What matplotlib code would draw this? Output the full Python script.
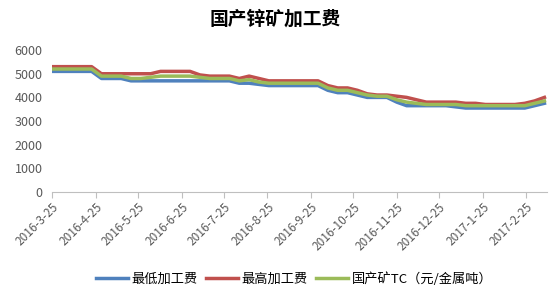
import datetime as dt
import matplotlib
matplotlib.use("Agg")
import matplotlib.pyplot as plt
import matplotlib.dates as mdates

plt.rcParams['font.family'] = ['Noto Sans CJK SC', 'DejaVu Sans']

# weekly quotes, starting 2016-3-25
start = dt.date(2016, 3, 25)
n_weeks = 51
dates = [start + dt.timedelta(weeks=i) for i in range(n_weeks)]

low_fee = [5100, 5100, 5100, 5100, 5100, 4800, 4800, 4800, 4700, 4700,
           4700, 4700, 4700, 4700, 4700, 4700, 4700, 4700, 4700, 4600,
           4600, 4550, 4500, 4500, 4500, 4500, 4500, 4500, 4300, 4200,
           4200, 4100, 4000, 4000, 4000, 3800, 3650, 3650, 3650, 3650,
           3650, 3600, 3550, 3550, 3550, 3550, 3550, 3550, 3550, 3650,
           3750]
high_fee = [5300, 5300, 5300, 5300, 5300, 5000, 5000, 5000, 5000, 5000,
            5000, 5100, 5100, 5100, 5100, 4950, 4900, 4900, 4900, 4800,
            4900, 4800, 4700, 4700, 4700, 4700, 4700, 4700, 4500, 4400,
            4400, 4300, 4150, 4100, 4100, 4050, 4000, 3900, 3800, 3800,
            3800, 3800, 3750, 3750, 3700, 3700, 3700, 3700, 3750, 3850,
            4000]
tc_fee = [5200, 5200, 5200, 5200, 5200, 4900, 4900, 4900, 4800, 4800,
          4850, 4900, 4900, 4900, 4900, 4850, 4800, 4800, 4800, 4700,
          4750, 4650, 4600, 4600, 4600, 4600, 4600, 4600, 4400, 4300,
          4300, 4200, 4100, 4050, 4050, 3900, 3800, 3750, 3700, 3700,
          3700, 3700, 3650, 3650, 3650, 3650, 3650, 3650, 3650, 3750,
          3850]

tick_dates = [dt.date(2016, m, 25) for m in range(3, 13)] + \
             [dt.date(2017, 1, 25), dt.date(2017, 2, 25)]
tick_labels = [f"{d.year}-{d.month}-{d.day}" for d in tick_dates]

fig = plt.figure(figsize=(5.5, 3), dpi=100)
ax = fig.add_axes([0.095, 0.36, 0.9, 0.473])

ax.plot(dates, low_fee, color="#4F81BD", lw=2.5, label="最低加工费")
ax.plot(dates, high_fee, color="#C0504D", lw=2.5, label="最高加工费")
ax.plot(dates, tc_fee, color="#9BBB59", lw=2.5, label="国产矿TC（元/金属吨）")

ax.set_ylim(0, 6000)
ax.set_yticks(range(0, 7000, 1000))
ax.set_xlim(dt.date(2016, 3, 25), dt.date(2017, 3, 12))
ax.set_xticks(tick_dates)
ax.set_xticklabels(tick_labels, rotation=45, ha="right", rotation_mode="anchor")

for s in ["top", "right", "left"]:
    ax.spines[s].set_visible(False)
ax.spines["bottom"].set_color("#BFBFBF")
ax.tick_params(axis="y", length=0, labelsize=9, labelcolor="#595959", pad=7)
ax.tick_params(axis="x", length=4, color="#BFBFBF", labelsize=8.5,
               labelcolor="#595959", pad=2)

fig.text(0.5, 0.935, "国产锌矿加工费", ha="center", va="center",
         fontsize=13.5, fontweight="bold")

fig.legend(loc="center", bbox_to_anchor=(0.535, 0.07), ncol=3, frameon=False,
           fontsize=9.5, handlelength=2.4, handletextpad=0.3, columnspacing=0.6)

fig.savefig("out.png", dpi=100)
